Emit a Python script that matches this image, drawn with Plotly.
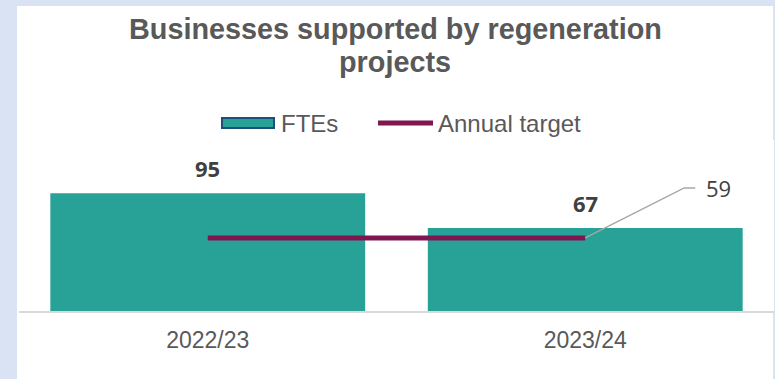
import plotly.graph_objects as go

# Data
years = ["2022/23", "2023/24"]
ftes = [95, 67]
annual_target = [59, 59]
title_lines = ["Businesses supported by regeneration", "projects"]

TEAL = "#28A197"
MAROON = "#801650"
GREY_TEXT = "#595959"
DARK_TEXT = "#404040"
FONT = "Liberation Sans, Arial, sans-serif"
LABEL_FONT = "Open Sans, Liberation Sans, sans-serif"

W, H = 775, 379
ML, MR, MT, MB = 19, 1, 140, 68
PW, PH = W - ML - MR, H - MT - MB


def px(x):
    return (x - ML) / PW


def py(y):
    return (H - MB - y) / PH


fig = go.Figure()

fig.add_trace(go.Bar(
    x=years, y=ftes, name="FTEs",
    marker=dict(color=TEAL, line=dict(width=0)),
    showlegend=False,
))

fig.add_trace(go.Scatter(
    x=years, y=annual_target, name="Annual target",
    mode="lines", line=dict(color=MAROON, width=5),
    showlegend=False,
))

shapes = []
annotations = []

# White chart panel over the pale blue surround
shapes.append(dict(type="rect", xref="paper", yref="paper",
                   x0=px(17), x1=px(773), y0=py(6), y1=py(379),
                   fillcolor="white", line=dict(width=0), layer="below"))

# Title, one annotation per line for tighter line spacing
for line_text, yc in zip(title_lines, [29, 62]):
    annotations.append(dict(text=f"<b>{line_text}</b>",
                            xref="paper", yref="paper", x=px(395), y=py(yc),
                            xanchor="center", yanchor="middle",
                            showarrow=False,
                            font=dict(family=FONT, size=28.8, color=GREY_TEXT)))

# Legend
shapes.append(dict(type="rect", xref="paper", yref="paper",
                   x0=px(222), x1=px(274), y0=py(128), y1=py(118),
                   fillcolor=TEAL, line=dict(color="#1F4E79", width=2)))
shapes.append(dict(type="line", xref="paper", yref="paper",
                   x0=px(378), x1=px(433), y0=py(123), y1=py(123),
                   line=dict(color=MAROON, width=5)))
annotations.append(dict(text="FTEs", xref="paper", yref="paper",
                        x=px(279), y=py(123), xanchor="left", yanchor="middle",
                        showarrow=False, font=dict(family=FONT, size=24, color=GREY_TEXT)))
annotations.append(dict(text="Annual target", xref="paper", yref="paper",
                        x=px(436), y=py(123), xanchor="left", yanchor="middle",
                        showarrow=False, font=dict(family=FONT, size=24, color=GREY_TEXT)))

# Value labels above bars
for yr, v in zip(years, ftes):
    annotations.append(dict(text=f"<b>{v}</b>", x=yr, y=v, xref="x", yref="y",
                            xanchor="center", yanchor="bottom", yshift=8,
                            showarrow=False,
                            font=dict(family=LABEL_FONT, size=22, color=DARK_TEXT)))

# Target label with leader line
shapes.append(dict(type="path", xref="x", yref="y",
                   xsizemode="pixel", ysizemode="pixel",
                   xanchor=years[-1], yanchor=annual_target[-1],
                   path="M0,0 L99,50 L110,50",
                   line=dict(color="#A6A6A6", width=1.5)))
annotations.append(dict(text=str(annual_target[-1]), x=years[-1], y=annual_target[-1],
                        xref="x", yref="y", xanchor="left", yanchor="middle",
                        xshift=119, yshift=50, showarrow=False,
                        font=dict(family=LABEL_FONT, size=22, color=DARK_TEXT)))

fig.update_layout(
    width=W, height=H,
    margin=dict(l=ML, r=MR, t=MT, b=MB, pad=0),
    paper_bgcolor="#DAE3F3",
    plot_bgcolor="white",
    bargap=0.166,
    xaxis=dict(showgrid=False, showline=True, linecolor="#D9D9D9", linewidth=2,
               ticks="", tickfont=dict(family=FONT, size=23, color=GREY_TEXT),
               ticklabelstandoff=7, fixedrange=True),
    yaxis=dict(range=[0, 138], visible=False, showgrid=False, zeroline=False,
               fixedrange=True),
    shapes=shapes,
    annotations=annotations,
    showlegend=False,
)

fig.write_html("out.html")
